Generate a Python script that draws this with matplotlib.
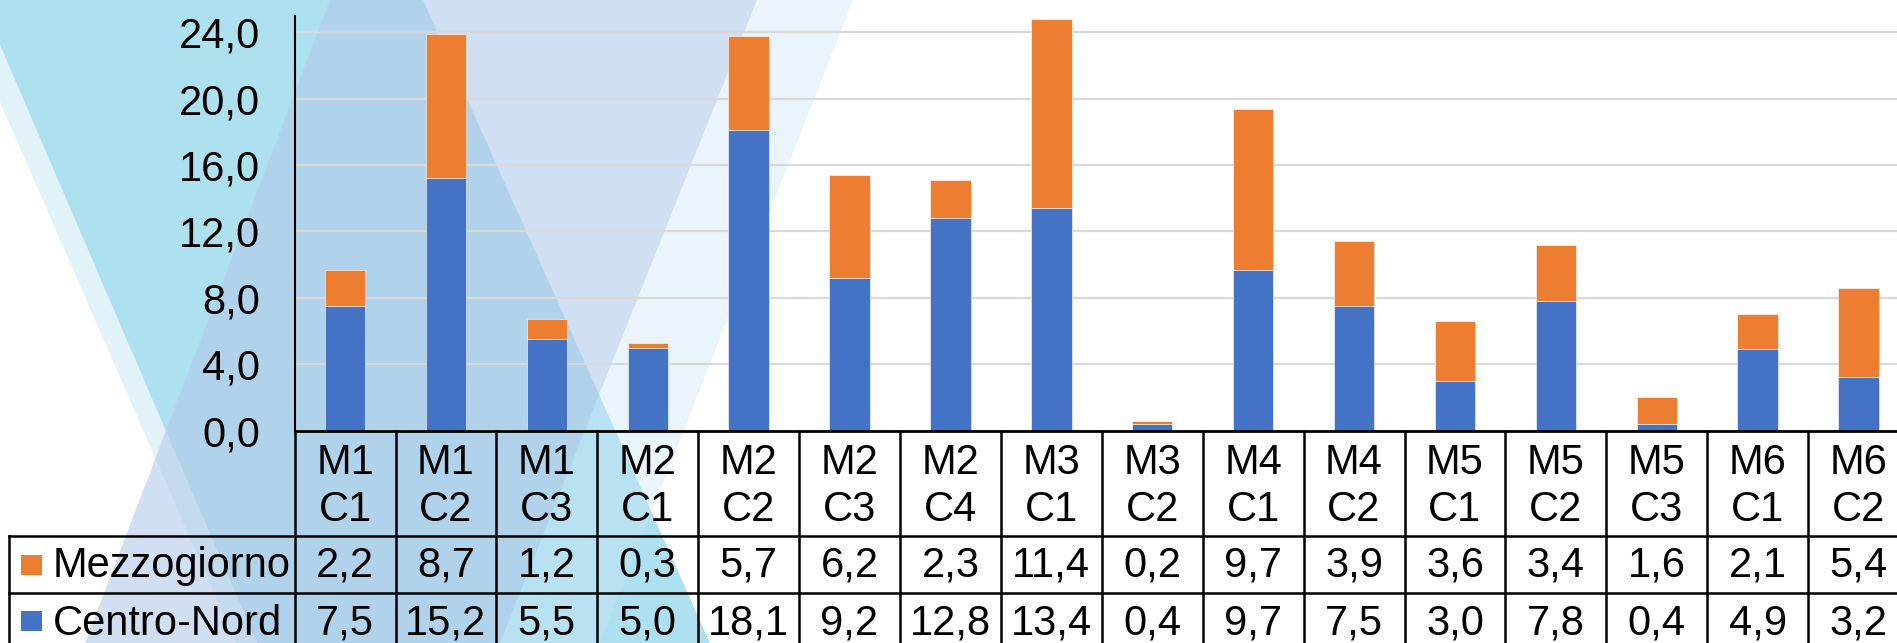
import matplotlib
matplotlib.use("Agg")
import matplotlib.pyplot as plt
import matplotlib.transforms as mtransforms
from matplotlib.patches import Polygon, Rectangle

plt.rcParams['font.family'] = ['Liberation Sans', 'DejaVu Sans']

# Data
categories = ["M1 C1", "M1 C2", "M1 C3", "M2 C1", "M2 C2", "M2 C3", "M2 C4", "M3 C1",
              "M3 C2", "M4 C1", "M4 C2", "M5 C1", "M5 C2", "M5 C3", "M6 C1", "M6 C2"]
mezzogiorno = [2.2, 8.7, 1.2, 0.3, 5.7, 6.2, 2.3, 11.4, 0.2, 9.7, 3.9, 3.6, 3.4, 1.6, 2.1, 5.4]
centro_nord = [7.5, 15.2, 5.5, 5.0, 18.1, 9.2, 12.8, 13.4, 0.4, 9.7, 7.5, 3.0, 7.8, 0.4, 4.9, 3.2]
series_names = ["Mezzogiorno", "Centro-Nord"]
y_ticks = [0, 4, 8, 12, 16, 20, 24]

orange = "#ED7D31"
blue = "#4472C4"
fs = 30

W, H = 1897, 643
fig = plt.figure(figsize=(W / 100, H / 100), dpi=100)

# decorative background (pixel coordinates, y from top)
bg = fig.add_axes([0, 0, 1, 1], zorder=0)
bg.set_xlim(0, W)
bg.set_ylim(H, 0)
bg.axis('off')
shapes = [
    ([(0, 45), (257, 643), (236, 643), (0, 102)], '#E1F2F9', 1.0),
    ([(0, 0), (423, 0), (710, 643), (257, 643), (0, 45)], '#AEE1F0', 1.0),
    ([(330, 0), (757, 0), (500, 643), (85, 643)], '#B2CBE8', 0.6),
    ([(757, 0), (853, 0), (600, 643), (500, 643)], '#C8E4F5', 0.4),
]
for pts, col, a in shapes:
    bg.add_patch(Polygon(pts, closed=True, facecolor=col, edgecolor='none', alpha=a))

# main chart area
col_w = 100.9
x0 = 294.6
base_y = 430.6
ax = fig.add_axes([x0 / W, (H - base_y) / H, 16 * col_w / W, 415 / H], zorder=1)
ax.patch.set_alpha(0)
x = list(range(len(categories)))
ax.bar(x, centro_nord, width=0.4, color=blue, edgecolor='white', linewidth=0.4, zorder=2)
ax.bar(x, mezzogiorno, width=0.4, bottom=centro_nord, color=orange,
       edgecolor='white', linewidth=0.4, zorder=2)
ax.set_xlim(-0.5, len(categories) - 0.5)
ax.set_ylim(0, 25)
ax.set_yticks(y_ticks)
ax.set_yticklabels([f"{v:.1f}".replace('.', ',') for v in y_ticks], fontsize=fs)
ax.tick_params(axis='y', length=0, pad=25)
ax.set_xticks([])
ax.yaxis.grid(True, color='#D9D9D9', linewidth=1.6)
ax.set_axisbelow(True)
for s in ['top', 'right', 'bottom']:
    ax.spines[s].set_visible(False)
ax.spines['left'].set_linewidth(1.5)
ax.spines['left'].set_color('black')

# data table under the chart
ov = fig.add_axes([0, 0, 1, 1], zorder=3)
ov.set_xlim(0, W)
ov.set_ylim(H, 0)
ov.axis('off')
ov.patch.set_alpha(0)
trans = mtransforms.blended_transform_factory(ax.transData, ov.transData)

r1, r2, r_bot = 536.4, 593.0, 652.0
lw = 1.8
ov.plot([x0, W + 20], [base_y, base_y], color='black', lw=2.0, clip_on=False)
ov.plot([9, W + 20], [r1, r1], color='black', lw=lw, clip_on=False)
ov.plot([9, W + 20], [r2, r2], color='black', lw=lw, clip_on=False)
ov.plot([9, 9], [r1, r_bot], color='black', lw=lw, clip_on=False)
for i in range(len(categories) + 1):
    ov.plot([i - 0.5, i - 0.5], [base_y, r_bot], color='black', lw=lw,
            transform=trans, clip_on=False)

for i, cat in enumerate(categories):
    top, bot = cat.split(' ')
    ov.text(i, 474, top, transform=trans, ha='center', va='baseline', fontsize=fs)
    ov.text(i, 521, bot, transform=trans, ha='center', va='baseline', fontsize=fs)
    ov.text(i, 577, f"{mezzogiorno[i]:.1f}".replace('.', ','), transform=trans,
            ha='center', va='baseline', fontsize=fs)
    ov.text(i, 635, f"{centro_nord[i]:.1f}".replace('.', ','), transform=trans,
            ha='center', va='baseline', fontsize=fs)

# legend keys in the first column
ov.add_patch(Rectangle((21, 554.5), 20.7, 20, facecolor=orange, edgecolor='none'))
ov.add_patch(Rectangle((21, 610.5), 20.7, 20, facecolor=blue, edgecolor='none'))
ov.text(52.7, 577, series_names[0], ha='left', va='baseline', fontsize=fs)
ov.text(52.7, 635, series_names[1], ha='left', va='baseline', fontsize=fs)

fig.savefig("out.png", dpi=100)
